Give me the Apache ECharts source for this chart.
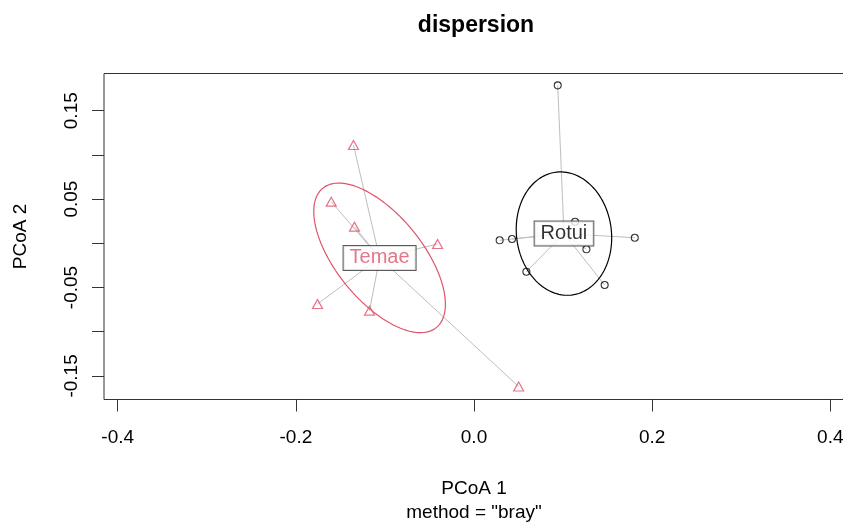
<!DOCTYPE html>
<html><head><meta charset="utf-8">
<script src="https://cdn.jsdelivr.net/npm/echarts@6/dist/echarts.min.js"></script>
<style>html,body{margin:0;padding:0;background:#fff}#c{width:843px;height:524px}</style>
</head><body><div id="c"></div>
<script>
// ---- data ----
const groups = ['Temae', 'Rotui'];
const groupColors = ['#DF536B', '#000000'];
const temaeX = [-0.1353, -0.1603, -0.1342, -0.0409, -0.1757, -0.1173, 0.0501];
const temaeY = [0.1112, 0.0471, 0.0188, -0.0008, -0.0687, -0.0762, -0.1620];
const rotuiX = [0.0940, 0.0288, 0.0427, 0.1135, 0.1262, 0.1805, 0.0588, 0.1467];
const rotuiY = [0.1787, 0.0034, 0.0049, 0.0244, -0.0068, 0.0063, -0.0321, -0.0472];
const centroidX = [-0.106, 0.101];
const centroidY = [-0.0165, 0.011];
const ellipseSdX = [0.0739, 0.0536];
const ellipseSdY = [0.0846, 0.0698];
const ellipseCor = [-0.62, -0.07];
const xTicks = [-0.4, -0.2, 0, 0.2, 0.4];
const yTicks = [-0.15, -0.1, -0.05, 0, 0.05, 0.1, 0.15];
const yTickLabels = [-0.15, -0.05, 0.05, 0.15];

const FONT = 'Liberation Sans, Arial, Helvetica, sans-serif';
const groupX = [temaeX, rotuiX];
const groupY = [temaeY, rotuiY];

const segs = [];
groups.forEach((g, i) => {
  groupX[i].forEach((x, k) => {
    segs.push({ coords: [[centroidX[i], centroidY[i]], [x, groupY[i][k]]] });
  });
});

const chart = echarts.init(document.getElementById('c'), null, { renderer: 'canvas' });
chart.setOption({
  animation: false,
  backgroundColor: '#fff',
  grid: { left: 104, top: 73.5, width: 740, height: 326, show: true, borderColor: '#333', borderWidth: 1, backgroundColor: 'transparent', containLabel: false, outerBoundsMode: 'none' },
  xAxis: {
    type: 'value', min: -0.4154, max: 0.4154,
    splitLine: { show: false }, axisLine: { show: false, onZero: false },
    axisTick: { show: true, customValues: xTicks, length: 12, lineStyle: { color: '#333', width: 1 } },
    axisLabel: { customValues: xTicks, formatter: v => v.toFixed(1), fontSize: 19, fontFamily: FONT, color: '#000', margin: 29, hideOverlap: false },
    name: 'PCoA 1', nameLocation: 'middle', nameGap: 80,
    nameTextStyle: { fontSize: 19, fontFamily: FONT, color: '#000' }
  },
  yAxis: {
    type: 'value', min: -0.1767, max: 0.1921,
    splitLine: { show: false }, axisLine: { show: false, onZero: false },
    axisTick: { show: true, customValues: yTicks, length: 12, lineStyle: { color: '#333', width: 1 } },
    axisLabel: { customValues: yTickLabels, rotate: 90, formatter: v => v.toFixed(2), fontSize: 19, fontFamily: FONT, color: '#000', margin: 23 },
    name: 'PCoA 2', nameLocation: 'middle', nameGap: 74, nameRotate: 90,
    nameTextStyle: { fontSize: 19, fontFamily: FONT, color: '#000' }
  },
  graphic: [
    { type: 'text', x: 476, y: 26, style: { text: 'dispersion', font: 'bold 23px ' + FONT, fill: '#000', align: 'center', verticalAlign: 'middle' } },
    { type: 'text', x: 474, y: 512.5, style: { text: 'method = "bray"', font: '19px ' + FONT, fill: '#000', align: 'center', verticalAlign: 'middle' } }
  ],
  series: [
    {
      type: 'lines', coordinateSystem: 'cartesian2d', silent: true, z: 1,
      data: segs, lineStyle: { color: '#BEBEBE', width: 1, opacity: 1 }
    },
    {
      type: 'custom', coordinateSystem: 'cartesian2d', silent: true, z: 2, clip: false,
      data: groups.map((g, i) => [centroidX[i], centroidY[i], i]),
      encode: { x: 0, y: 1 },
      renderItem: function (params, api) {
        const i = api.value(2);
        const cx = api.value(0), cy = api.value(1);
        const sx = ellipseSdX[i], sy = ellipseSdY[i], r = ellipseCor[i];
        const pts = [];
        for (let k = 0; k <= 120; k++) {
          const t = 2 * Math.PI * k / 120;
          const u = Math.cos(t), w = Math.sin(t);
          pts.push(api.coord([cx + sx * u, cy + sy * (r * u + Math.sqrt(1 - r * r) * w)]));
        }
        return { type: 'polyline', shape: { points: pts }, style: { fill: null, stroke: groupColors[i], lineWidth: 1.2 } };
      }
    },
    {
      type: 'scatter', name: 'Temae', z: 3, silent: true,
      data: temaeX.map((x, k) => [x, temaeY[k]]),
      symbol: 'triangle', symbolSize: [10, 9],
      itemStyle: { color: 'rgba(0,0,0,0)', borderColor: groupColors[0], borderWidth: 1.2 }
    },
    {
      type: 'scatter', name: 'Rotui', z: 3, silent: true,
      data: rotuiX.map((x, k) => [x, rotuiY[k]]),
      symbol: 'circle', symbolSize: 7,
      itemStyle: { color: 'rgba(0,0,0,0)', borderColor: groupColors[1], borderWidth: 1.1 }
    },
    {
      type: 'scatter', z: 5, silent: true,
      data: groups.map((g, i) => ({ value: [centroidX[i], centroidY[i]], name: g, label: { color: groupColors[i] } })),
      symbolSize: 1, itemStyle: { color: 'rgba(0,0,0,0)' },
      label: {
        show: true, position: 'inside', formatter: p => p.name,
        fontSize: 20, fontFamily: FONT, lineHeight: 20,
        backgroundColor: '#fff', borderColor: '#333', borderWidth: 1, padding: [2, 6]
      }
    }
  ]
});
</script>
</body></html>
